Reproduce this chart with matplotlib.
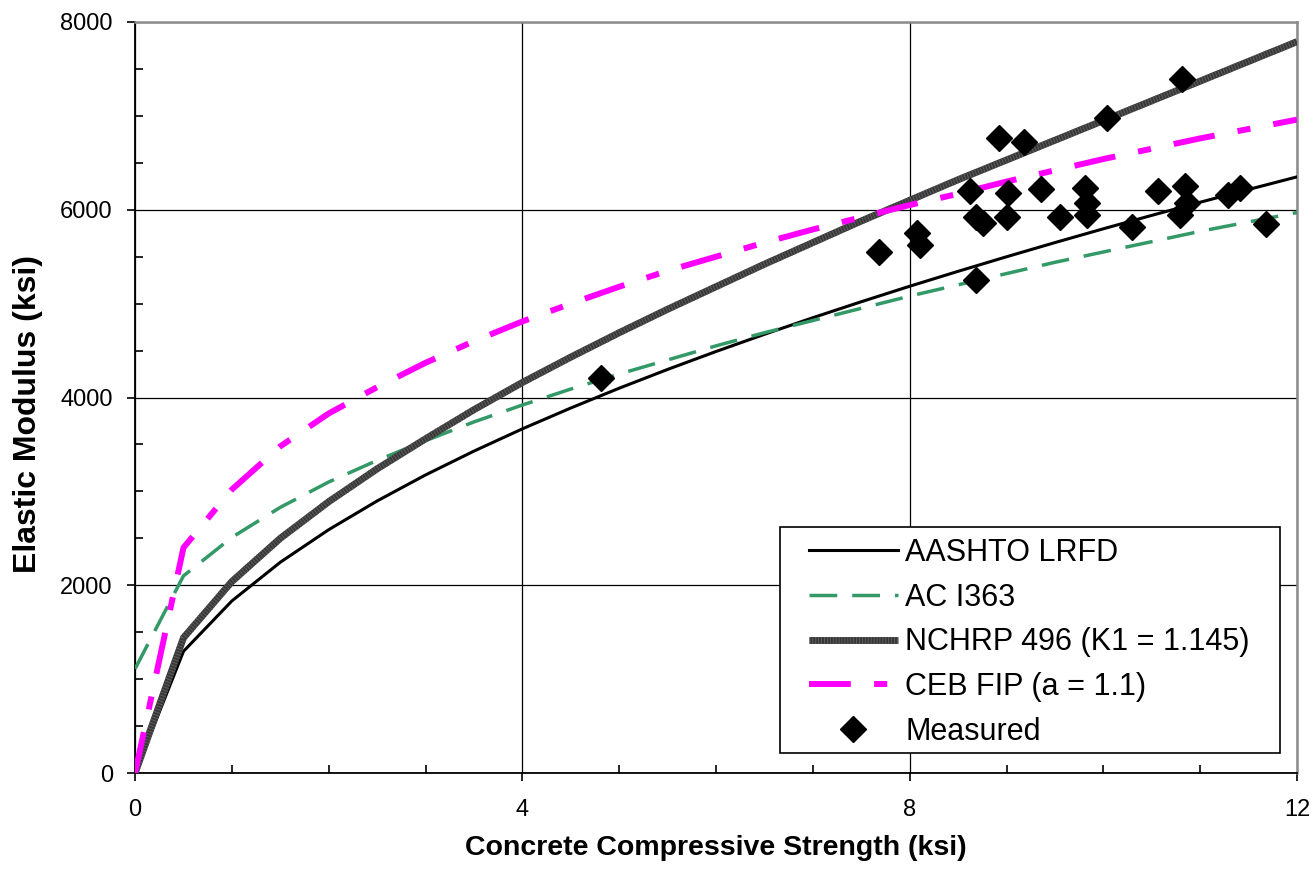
import matplotlib
matplotlib.use("Agg")
import matplotlib.pyplot as plt
from matplotlib.ticker import MultipleLocator
from matplotlib.legend_handler import HandlerTuple
from matplotlib.patches import Rectangle

plt.rcParams['font.family'] = ['Liberation Sans', 'DejaVu Sans']

# concrete strength (ksi) where the curves are sampled
fc = [0, 0.5, 1, 1.5, 2, 2.5, 3, 3.5, 4, 4.5, 5, 5.5, 6, 6.5, 7, 7.5,
      8, 8.5, 9, 9.5, 10, 10.5, 11, 11.5, 12]

aashto = [0, 1296, 1833, 2245, 2592, 2898, 3175, 3429, 3666, 3888, 4099, 4299,
          4490, 4673, 4850, 5020, 5185, 5344, 5499, 5650, 5797, 5940, 6080,
          6216, 6350]

aci363 = [1110, 2100, 2510, 2830, 3100, 3330, 3540, 3740, 3920, 4090, 4250,
          4400, 4550, 4690, 4820, 4950, 5080, 5200, 5320, 5440, 5550, 5660,
          5770, 5870, 5970]

nchrp = [0, 1440, 2040, 2500, 2890, 3240, 3560, 3870, 4160, 4430, 4690, 4940,
         5180, 5420, 5650, 5880, 6100, 6320, 6530, 6740, 6950, 7160, 7370,
         7580, 7790]

cebfip = [0, 2400, 3020, 3480, 3830, 4110, 4370, 4600, 4810, 5000, 5180, 5350,
          5500, 5650, 5790, 5920, 6050, 6170, 6300, 6420, 6540, 6650, 6760,
          6860, 6960]

# measured points
meas_fc = [7.68, 8.08, 8.11, 8.62, 8.68, 8.76, 8.68, 8.92, 9.02, 9.00, 9.18,
           9.36, 9.55, 9.81, 9.83, 9.83, 10.04, 10.30, 10.56, 10.81, 10.84,
           10.86, 10.79, 11.29, 11.41, 11.68, 4.81]
meas_e = [5546, 5755, 5624, 6199, 5926, 5862, 5252, 6767, 6181, 5926, 6725,
          6221, 5926, 6228, 6068, 5944, 6974, 5819, 6203, 7392, 6250, 6075,
          5944, 6157, 6228, 5845, 4211]

fig = plt.figure(figsize=(13.15, 8.72), dpi=100)
ax = fig.add_axes([0.1027, 0.1135, 0.8836, 0.8613])

l1, = ax.plot(fc, aashto, color='black', lw=2.2, zorder=3)
l2, = ax.plot(fc, aci363, color='#339966', lw=2.5, dashes=(8, 4.3), zorder=3)
l3a, = ax.plot(fc, nchrp, color='#383838', lw=5.0, solid_capstyle='butt', zorder=3)
l3b, = ax.plot(fc, nchrp, color='#626262', lw=5.0, dashes=(0.12, 0.3), zorder=3)
l4, = ax.plot(fc, cebfip, color='#ff00ff', lw=4.3, dashes=(7, 3.9, 2.2, 3.9), zorder=3)
l5, = ax.plot(meas_fc, meas_e, linestyle='none', marker='D', markersize=13,
              color='black', zorder=4)

ax.set_xlim(0, 12)
ax.set_ylim(0, 8000)
ax.xaxis.set_major_locator(MultipleLocator(4))
ax.xaxis.set_minor_locator(MultipleLocator(1))
ax.yaxis.set_major_locator(MultipleLocator(2000))
ax.yaxis.set_minor_locator(MultipleLocator(500))
ax.tick_params(which='major', direction='out', length=6, width=1.2,
               labelsize=17, color='black')
ax.tick_params(axis='x', which='major', pad=13)
ax.tick_params(axis='y', which='major', pad=10)
ax.tick_params(which='minor', direction='in', length=6, width=1.2)

ax.grid(which='major', color='black', lw=0.9)
ax.set_axisbelow(True)

for side in ['left', 'bottom']:
    ax.spines[side].set_color('black')
    ax.spines[side].set_linewidth(1.3)
for side in ['top', 'right']:
    ax.spines[side].set_color('#8c8c8c')
    ax.spines[side].set_linewidth(1.8)

ax.set_xlabel('Concrete Compressive Strength (ksi)', fontsize=20.5,
              fontweight='bold', labelpad=10)
ax.set_ylabel('Elastic Modulus (ksi)', fontsize=23, fontweight='bold')
ax.yaxis.set_label_coords(-0.079, 0.478)

# legend box drawn by hand so the side padding can be wider than the top
box = Rectangle((0.555, 0.027), 0.430, 0.301, transform=ax.transAxes,
                facecolor='white', edgecolor='black', lw=1.2, zorder=5)
ax.add_patch(box)

leg = ax.legend([l1, l2, (l3a, l3b), l4, l5],
                ['AASHTO LRFD', 'AC I363', 'NCHRP 496 (K1 = 1.145)',
                 'CEB FIP (a = 1.1)', 'Measured'],
                handler_map={tuple: HandlerTuple(ndivide=1, pad=0)},
                loc='upper left', bbox_to_anchor=(0.580, 0.313),
                fontsize=22, frameon=False, handlelength=2.9,
                handletextpad=0.25, labelspacing=0.48, borderpad=0,
                borderaxespad=0)
leg.set_zorder(6)

fig.savefig('out.png', dpi=100)
